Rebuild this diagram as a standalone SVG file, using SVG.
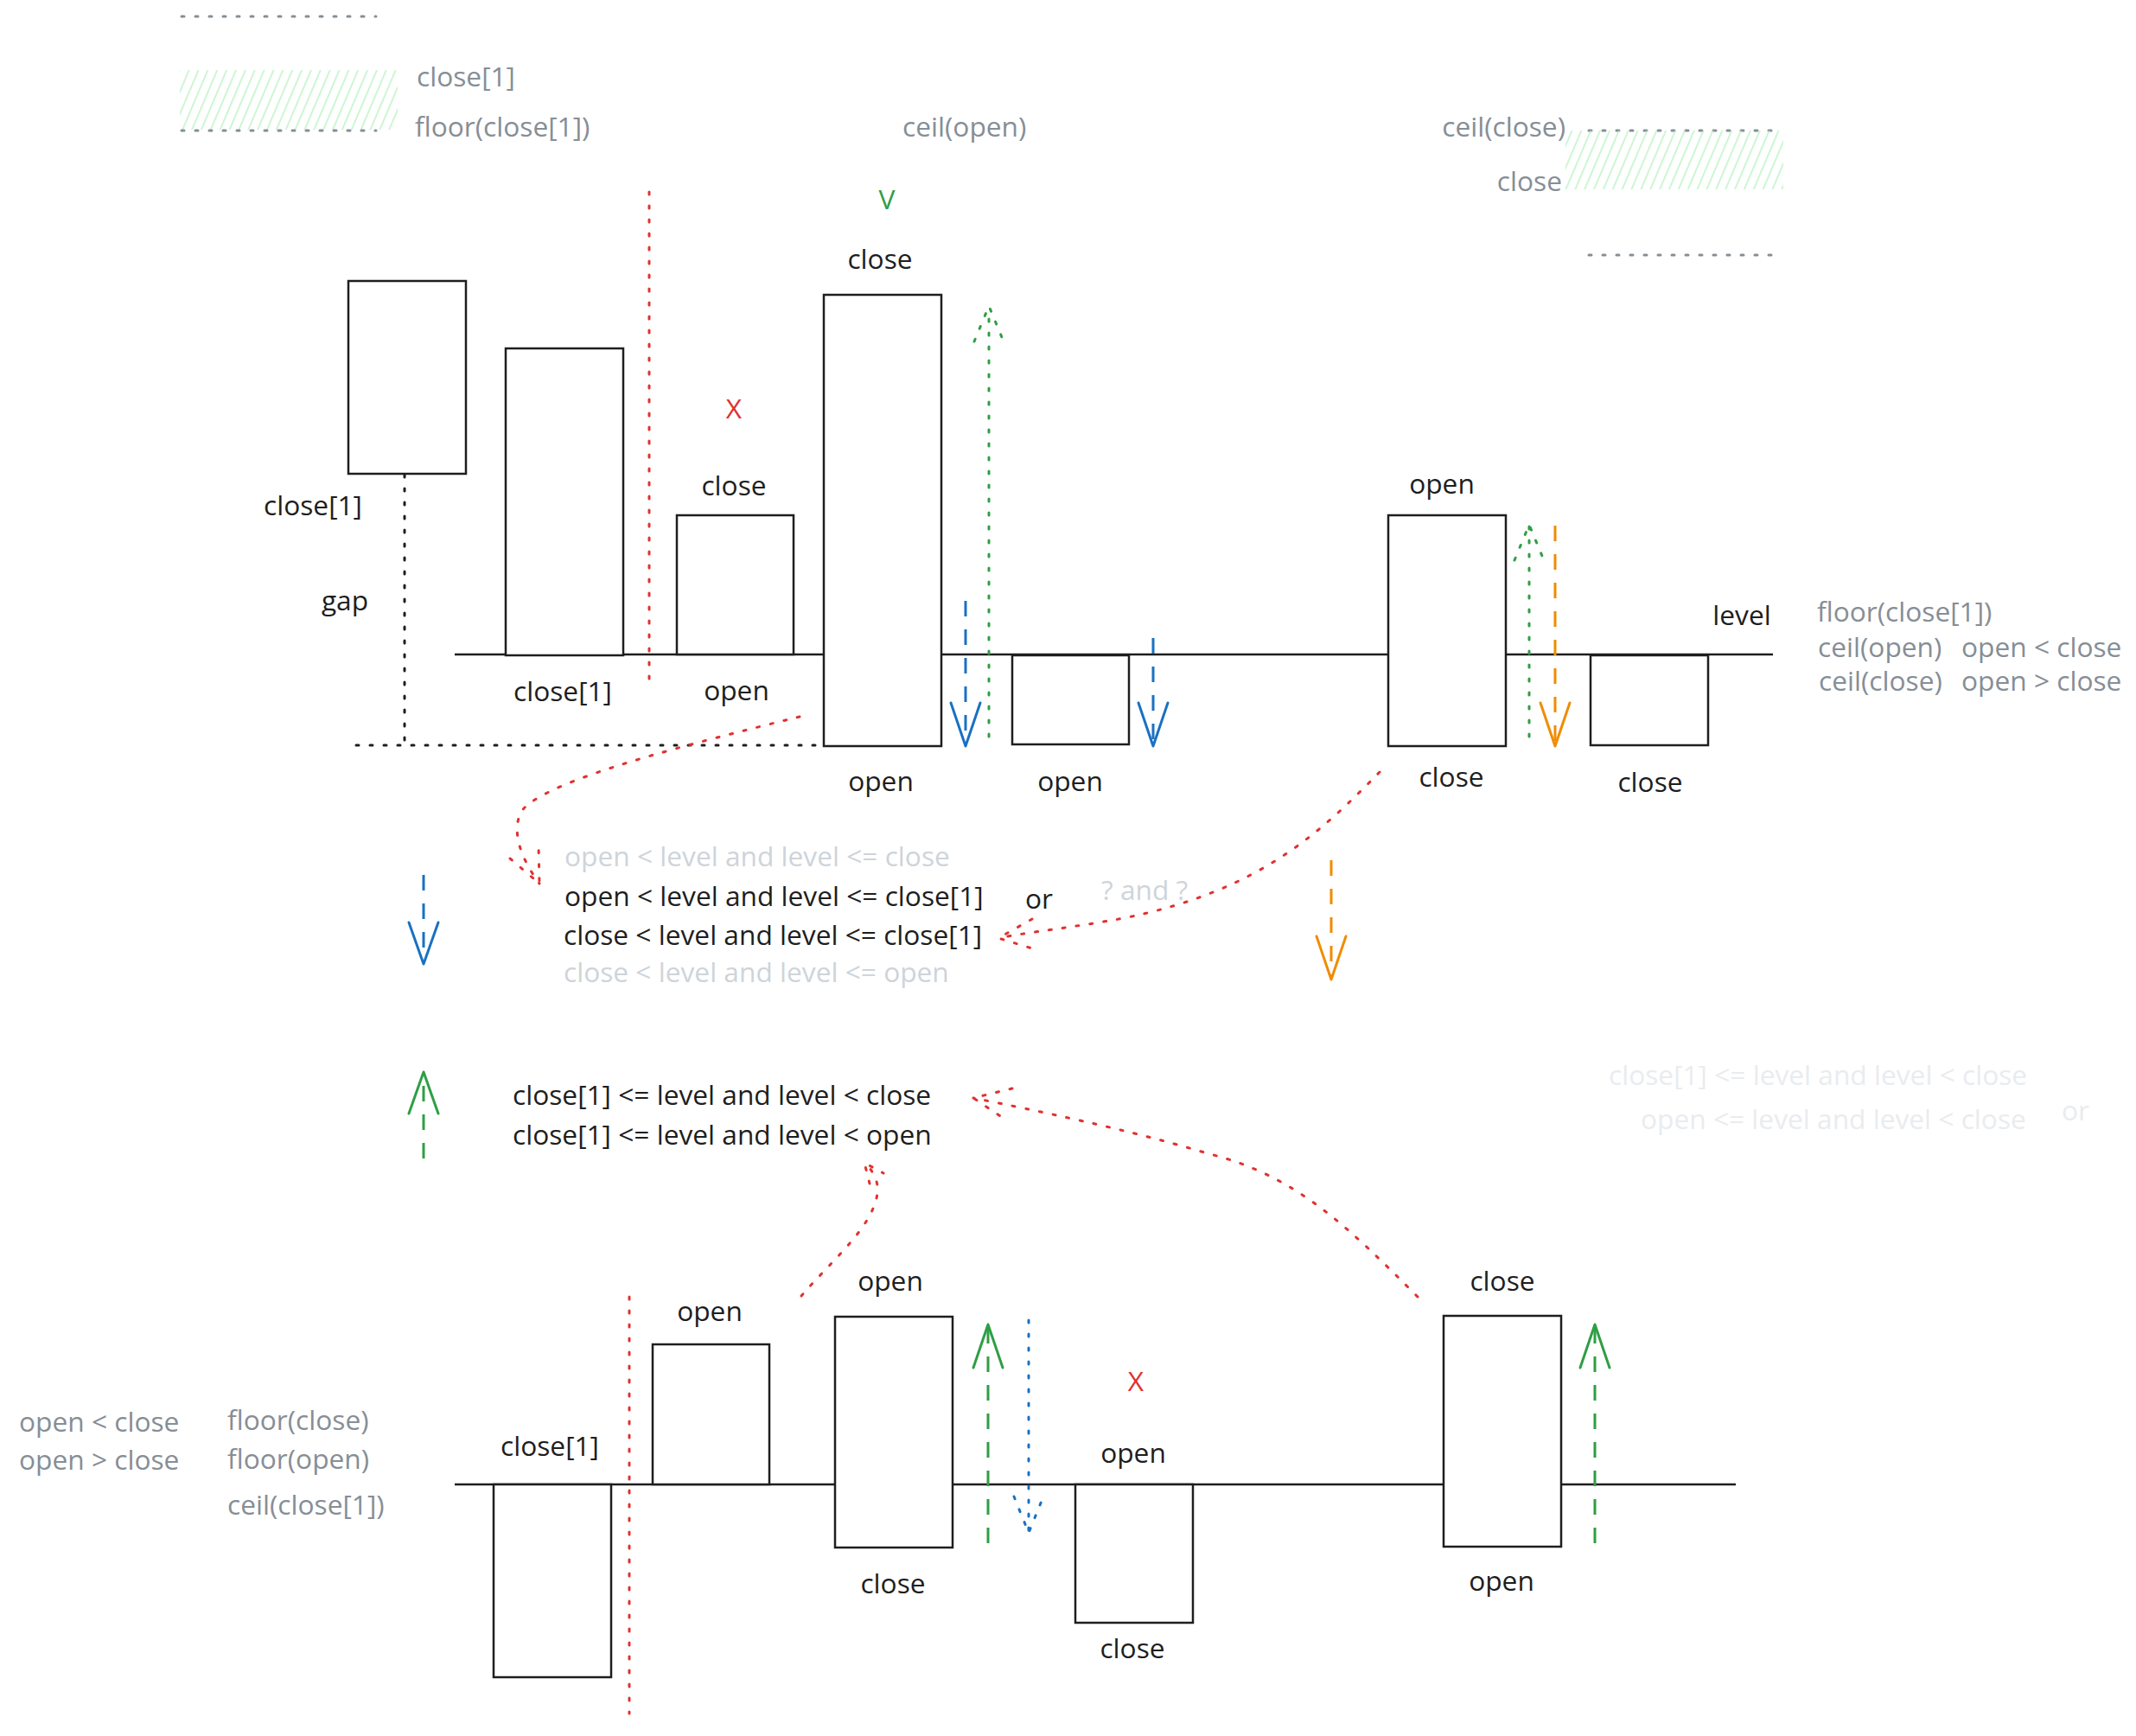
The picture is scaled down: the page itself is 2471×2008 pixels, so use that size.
<svg xmlns="http://www.w3.org/2000/svg" width="2471" height="2008" viewBox="0 0 2471 2008">
<defs>
<pattern id="hatch" width="10" height="10" patternUnits="userSpaceOnUse" patternTransform="rotate(23)">
<line x1="3" y1="0" x2="3" y2="10" stroke="#b2f2bb" stroke-width="1.3"/>
</pattern>
<style>
text{font-family:"Open Sans","Noto Sans",sans-serif;font-size:31.7px;fill:#1e1e1e}
.m{text-anchor:middle}
.e{text-anchor:end}
.g{fill:#868e96}
.lg{fill:#ced4da}
.vlg{fill:#e9ecef}
.red{fill:#e03131}
.grn{fill:#2f9e44}
.box{fill:#ffffff;stroke:#1e1e1e;stroke-width:2.5}
.lvl{stroke:#1e1e1e;stroke-width:2.5;fill:none}
.dot{fill:none;stroke-width:3;stroke-dasharray:3 13;stroke-linecap:round}
.dash{fill:none;stroke-width:3;stroke-dasharray:18 15}
.solid{fill:none;stroke-width:3;stroke-linejoin:round;stroke-linecap:round}
.r{stroke:#e03131}.b{stroke:#1971c2}.gr{stroke:#2f9e44}.o{stroke:#f08c00}.k{stroke:#1e1e1e}.gy{stroke:#868e96}
</style>
</defs>
<rect width="2471" height="2008" fill="#ffffff"/>

<g id="legend-top-left">
<line class="dot gy" x1="210" y1="19" x2="435" y2="19"/>
<rect x="208" y="81" width="252" height="69" fill="url(#hatch)"/>
<line class="dot gy" x1="210" y1="151" x2="435" y2="151"/>
<text class="g" x="482" y="100">close[1]</text>
<text class="g" x="480" y="158">floor(close[1])</text>
</g>
<g id="legend-top-mid">
<text class="g" x="1044" y="158">ceil(open)</text>
<text class="grn m" x="1026" y="242">V</text>
</g>
<g id="legend-top-right">
<text class="g e" x="1811" y="158">ceil(close)</text>
<line class="dot gy" x1="1838" y1="151" x2="2062" y2="151"/>
<rect x="1811" y="151" width="252" height="68" fill="url(#hatch)"/>
<text class="g e" x="1807" y="221">close</text>
<line class="dot gy" x1="1838" y1="295" x2="2062" y2="295"/>
</g>

<g id="top-row">
<line class="lvl" x1="526" y1="757" x2="2051" y2="757"/>
<line class="dot r" x1="751" y1="222" x2="751" y2="788"/>
<line class="dot k" x1="468" y1="549" x2="468" y2="862"/>
<line class="dot k" x1="412" y1="862" x2="944" y2="862"/>
<g id="t1"><rect class="box" x="403" y="325" width="136" height="223"/><text class="m" x="362" y="596">close[1]</text><text class="m" x="399" y="706">gap</text></g>
<g id="t2"><rect class="box" x="585" y="403" width="136" height="355"/><text class="m" x="651" y="811">close[1]</text></g>
<g id="t3"><rect class="box" x="783" y="596" width="135" height="161"/><text class="m" x="849" y="573">close</text><text class="m" x="852" y="810">open</text><text class="red m" x="849" y="484">X</text></g>
<g id="t4"><rect class="box" x="953" y="341" width="136" height="522"/><text class="m" x="1018" y="311">close</text><text class="m" x="1019" y="915">open</text></g>
<g id="t5"><rect class="box" x="1171" y="758" width="135" height="103"/><text class="m" x="1238" y="915">open</text></g>
<g id="t6"><rect class="box" x="1606" y="596" width="136" height="267"/><text class="m" x="1668" y="571">open</text><text class="m" x="1679" y="910">close</text></g>
<g id="t7"><rect class="box" x="1840" y="758" width="136" height="104"/><text class="m" x="1909" y="916">close</text></g>
<text class="m" x="2015" y="723">level</text>
</g>
<g id="legend-right">
<text class="g" x="2102" y="719">floor(close[1])</text>
<text class="g" x="2103" y="760">ceil(open)</text>
<text class="g" x="2269" y="760">open &lt; close</text>
<text class="g" x="2104" y="799">ceil(close)</text>
<text class="g" x="2269" y="799">open &gt; close</text>
</g>

<g id="conditions-down">
<text class="lg" x="653" y="1002">open &lt; level and level &lt;= close</text>
<text x="653" y="1048">open &lt; level and level &lt;= close[1]</text>
<text x="1186" y="1051">or</text>
<text x="652" y="1093">close &lt; level and level &lt;= close[1]</text>
<text class="lg" x="652" y="1136">close &lt; level and level &lt;= open</text>
<text class="lg" x="1274" y="1041">? and ?</text>
</g>
<g id="conditions-up">
<text x="593" y="1278">close[1] &lt;= level and level &lt; close</text>
<text x="593" y="1324">close[1] &lt;= level and level &lt; open</text>
</g>
<g id="conditions-right">
<text class="vlg" x="1861" y="1255">close[1] &lt;= level and level &lt; close</text>
<text class="vlg" x="1898" y="1306">open &lt;= level and level &lt; close</text>
<text class="vlg" x="2385" y="1296">or</text>
</g>

<g id="bottom-row">
<line class="lvl" x1="526" y1="1717" x2="2008" y2="1717"/>
<line class="dot r" x1="728" y1="1500" x2="728" y2="1982"/>
<g id="b1"><rect class="box" x="571" y="1717" width="136" height="223"/><text class="m" x="636" y="1684">close[1]</text></g>
<g id="b2"><rect class="box" x="755" y="1555" width="135" height="162"/><text class="m" x="821" y="1528">open</text></g>
<g id="b3"><rect class="box" x="966" y="1523" width="136" height="267"/><text class="m" x="1030" y="1493">open</text><text class="m" x="1033" y="1843">close</text></g>
<g id="b4"><rect class="box" x="1244" y="1717" width="136" height="160"/><text class="m" x="1311" y="1692">open</text><text class="m" x="1310" y="1918">close</text><text class="red m" x="1314" y="1609">X</text></g>
<g id="b5"><rect class="box" x="1670" y="1522" width="136" height="267"/><text class="m" x="1738" y="1493">close</text><text class="m" x="1737" y="1840">open</text></g>
</g>
<g id="legend-bottom-left">
<text class="g" x="22" y="1656">open &lt; close</text>
<text class="g" x="22" y="1700">open &gt; close</text>
<text class="g" x="263" y="1654">floor(close)</text>
<text class="g" x="263" y="1699">floor(open)</text>
<text class="g" x="263" y="1752">ceil(close[1])</text>
</g>

<g id="connectors">
<line class="dot gr" x1="1144" y1="852" x2="1144" y2="356"/>
<path class="dot gr" d="M1127,395 L1144,354 L1161,395"/>
<line class="dash b" x1="1117" y1="695" x2="1117" y2="861"/>
<path class="solid b" d="M1100,813 L1117,863 L1134,813"/>
<line class="dash b" x1="1334" y1="738" x2="1334" y2="861"/>
<path class="solid b" d="M1317,813 L1334,863 L1351,813"/>
<line class="dot gr" x1="1769" y1="852" x2="1769" y2="609"/>
<path class="dot gr" d="M1752,648 L1769,607 L1786,648"/>
<line class="dash o" x1="1799" y1="608" x2="1799" y2="861"/>
<path class="solid o" d="M1782,813 L1799,863 L1816,813"/>
<line class="dash b" x1="490" y1="1012" x2="490" y2="1113"/>
<path class="solid b" d="M473,1067 L490,1115 L507,1067"/>
<line class="dash o" x1="1540" y1="995" x2="1540" y2="1131"/>
<path class="solid o" d="M1523,1083 L1540,1133 L1557,1083"/>
<line class="dash gr" x1="490" y1="1340" x2="490" y2="1242"/>
<path class="solid gr" d="M473,1288 L490,1240 L507,1288"/>
<line class="dash gr" x1="1143" y1="1785" x2="1143" y2="1534"/>
<path class="solid gr" d="M1126,1582 L1143,1532 L1160,1582"/>
<line class="dot b" x1="1190" y1="1527" x2="1190" y2="1771"/>
<path class="dot b" d="M1173,1731 L1190,1773 L1207,1731"/>
<line class="dash gr" x1="1845" y1="1785" x2="1845" y2="1534"/>
<path class="solid gr" d="M1828,1582 L1845,1532 L1862,1582"/>
<path class="dot r" d="M925,829 C800,860 640,900 606,935 C590,955 600,990 624,1022"/>
<path class="dot r" d="M590,993 L624,1022 L623,977"/>
<path class="dot r" d="M1596,893 C1530,960 1460,1030 1300,1062 C1240,1073 1190,1078 1155,1085"/>
<path class="dot r" d="M1194,1063 L1155,1085 L1197,1098"/>
<path class="dot r" d="M1640,1500 C1560,1420 1500,1360 1400,1335 C1300,1305 1200,1285 1126,1270"/>
<path class="dot r" d="M1171,1259 L1126,1270 L1163,1295"/>
<path class="dot r" d="M927,1499 C960,1460 1010,1420 1015,1380 C1017,1365 1008,1352 1000,1345"/>
<path class="dot r" d="M1006,1369 L1000,1345 L1022,1357"/>
</g>
</svg>
